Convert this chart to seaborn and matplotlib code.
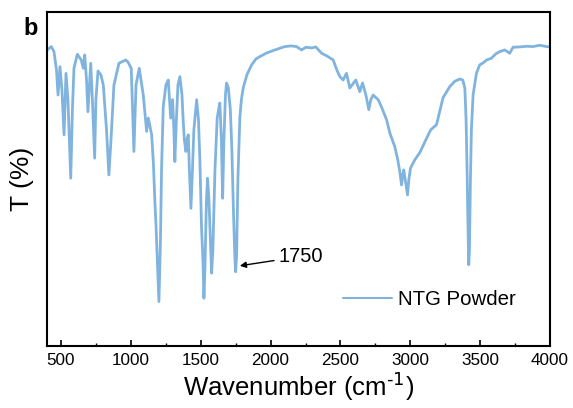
import pandas as pd
import matplotlib
matplotlib.use("Agg")
import matplotlib.pyplot as plt
import seaborn as sns
from matplotlib.ticker import MultipleLocator

# FTIR spectrum of NTG powder
wavenumber = [402, 431, 450, 468, 479, 493, 507, 522, 536, 550, 570, 582, 593, 617,
              645, 660, 670, 683, 693, 713, 725, 741, 750, 765, 786, 803, 826, 843,
              858, 879, 915, 963, 979, 1003, 1022, 1037, 1060, 1089, 1113, 1125,
              1149, 1162, 1172, 1180, 1187, 1201, 1212, 1220, 1232, 1251, 1268,
              1285, 1299, 1308, 1315, 1326, 1337, 1351, 1366, 1375, 1383, 1394,
              1401, 1411, 1419, 1430, 1441, 1451, 1471, 1484, 1494, 1506, 1516,
              1523, 1530, 1541, 1549, 1559, 1569, 1578, 1587, 1602, 1618, 1630,
              1637, 1648, 1657, 1666, 1677, 1685, 1698, 1712, 1723, 1734, 1745,
              1750, 1757, 1766, 1780, 1791, 1804, 1830, 1864, 1895, 1923, 1973,
              2031, 2102, 2145, 2186, 2222, 2252, 2295, 2324, 2365, 2403, 2448,
              2474, 2496, 2519, 2543, 2567, 2588, 2610, 2638, 2658, 2682, 2703,
              2717, 2734, 2770, 2796, 2830, 2853, 2889, 2910, 2925, 2937, 2946,
              2953, 2964, 2980, 2989, 3001, 3032, 3068, 3111, 3146, 3187, 3234,
              3282, 3318, 3354, 3375, 3390, 3399, 3406, 3413, 3418, 3423, 3430,
              3437, 3449, 3473, 3496, 3520, 3546, 3580, 3611, 3640, 3676, 3711,
              3735, 3783, 3833, 3878, 3926, 3974, 3998]
transmittance = [88.6, 89.6, 88.1, 82.6, 75.1, 83.6, 76.6, 63.2, 81.6, 73.7, 50.2, 70.7,
                 83.1, 87.3, 85.6, 83.1, 87.1, 79.6, 70.1, 84.6, 73.7, 56.2, 73.7,
                 82.3, 81.1, 78.1, 64.7, 51.2, 61.7, 78.1, 84.6, 85.6, 85.0, 83.1,
                 58.2, 78.1, 83.1, 75.1, 64.2, 68.2, 63.2, 54.2, 43.2, 36.2, 28.7,
                 13.3, 31.7, 53.3, 71.6, 78.1, 79.6, 68.2, 73.7, 64.7, 55.2, 67.7,
                 78.1, 80.6, 75.1, 67.2, 61.7, 58.2, 61.7, 63.2, 52.7, 41.2, 52.7,
                 64.7, 73.7, 67.7, 55.7, 35.3, 25.7, 14.3, 22.8, 43.7, 50.2, 43.7,
                 31.7, 21.8, 28.7, 52.7, 68.2, 71.3, 72.7, 61.7, 44.2, 61.7, 75.1,
                 78.7, 77.2, 70.7, 58.7, 40.7, 25.7, 22.2, 27.2, 49.7, 68.2, 73.7,
                 77.2, 81.1, 84.1, 85.9, 86.6, 87.7, 88.6, 89.6, 89.8, 89.6, 88.6,
                 89.4, 89.2, 89.5, 87.6, 86.8, 85.6, 82.6, 80.6, 79.6, 81.6, 77.2,
                 78.4, 79.6, 76.1, 78.7, 75.1, 70.7, 73.7, 75.1, 73.7, 71.3, 67.7,
                 63.8, 59.6, 55.7, 52.1, 48.2, 51.2, 52.7, 49.7, 45.2, 49.7, 53.2,
                 55.7, 57.9, 61.7, 64.7, 66.2, 74.3, 77.6, 79.2, 79.9, 79.6, 77.2,
                 67.7, 52.7, 34.7, 24.3, 28.7, 49.7, 64.7, 75.1, 81.6, 84.1, 84.7,
                 85.6, 86.1, 87.4, 88.1, 88.6, 87.6, 89.4, 89.5, 89.7, 89.6, 90.0,
                 89.6, 89.5]
series_name = "NTG Powder"
peak_label = "1750"

df = pd.DataFrame({"Wavenumber": wavenumber, "T": transmittance})
df["Sample"] = series_name

sns.set_style("ticks")
plt.rcParams["font.family"] = ["Liberation Sans", "DejaVu Sans"]
plt.rcParams["text.color"] = "black"
plt.rcParams["axes.labelcolor"] = "black"
plt.rcParams["xtick.color"] = "black"
plt.rcParams["xtick.labelcolor"] = "black"

fig = plt.figure(figsize=(5.73, 4.08), dpi=100)
ax = fig.add_axes([0.082, 0.152, 0.878, 0.819])

sns.lineplot(data=df, x="Wavenumber", y="T", hue="Sample",
             palette={series_name: "#80B4DF"}, linewidth=2.0, ax=ax,
             estimator=None, sort=False)

ax.set_xlim(400, 4000)
ax.set_ylim(0, 100)
ax.xaxis.set_minor_locator(MultipleLocator(250))
ax.set_xticks([500, 1000, 1500, 2000, 2500, 3000, 3500, 4000])
ax.set_yticks([])
ax.tick_params(axis="x", which="major", direction="in", length=4, width=1.2,
               labelsize=12.3, pad=5, colors="black")
ax.tick_params(axis="x", which="minor", direction="in", length=2.5, width=1.0,
               colors="black")
for s in ax.spines.values():
    s.set_linewidth(1.5)
    s.set_color("black")

ax.set_xlabel("Wavenumber (cm$^{\\text{-1}}$)", fontsize=18.5, labelpad=1, color="black")
ax.set_ylabel("T (%)", fontsize=19, labelpad=9, color="black")

ax.annotate(peak_label, xy=(1780, 24.0), xytext=(2058, 26.8),
            fontsize=14.5, va="center", ha="left", color="black",
            arrowprops=dict(arrowstyle="-|>", color="black", lw=1.0,
                            mutation_scale=9, shrinkA=1, shrinkB=0))

leg = ax.legend(loc="center left", bbox_to_anchor=(0.588, 0.138), frameon=False,
                fontsize=14.7, handlelength=2.4, handletextpad=0.3,
                borderpad=0, borderaxespad=0, labelcolor="black")
for line in leg.get_lines():
    line.set_linewidth(1.5)

fig.text(0.054, 0.929, "b", fontsize=17, fontweight="bold", ha="center", va="center",
         color="black")

plt.savefig("out.png", dpi=100)
